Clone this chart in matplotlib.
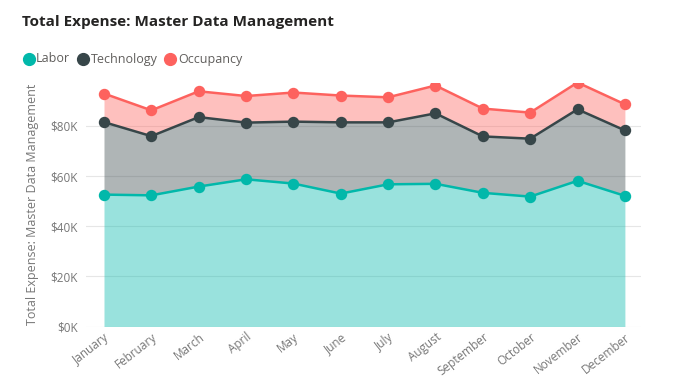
import matplotlib
matplotlib.use("Agg")
import matplotlib.pyplot as plt
from matplotlib.lines import Line2D
from matplotlib.ticker import FuncFormatter
import numpy as np

months = ["January", "February", "March", "April", "May", "June", "July",
          "August", "September", "October", "November", "December"]
labor = [52.6, 52.3, 55.8, 58.7, 57.0, 53.0, 56.7, 56.9, 53.3, 51.8, 58.1, 52.1]
technology = [28.9, 23.6, 27.7, 22.6, 24.7, 28.4, 24.7, 28.1, 22.5, 23.1, 28.5, 26.1]
occupancy = [11.4, 10.3, 10.3, 10.6, 11.6, 10.7, 10.0, 11.1, 11.1, 10.4, 10.7, 10.4]
series_names = ["Labor", "Technology", "Occupancy"]
colors = ["#01B8AA", "#374649", "#FD625E"]
yticks = [0, 20, 40, 60, 80]

plt.rcParams['font.family'] = ['Open Sans', 'DejaVu Sans']

W, H = 673, 387
fig = plt.figure(figsize=(W / 100, H / 100), dpi=100)
ax = fig.add_axes([86/W, 1 - 326.5/H, (641-86)/W, (326.5-82.5)/H])

x = np.arange(len(months))
base = np.zeros(len(months))
for vals, col in zip([labor, technology, occupancy], colors):
    top = base + np.array(vals)
    ax.fill_between(x, base, top, color=col, alpha=0.4, linewidth=0, zorder=2)
    base = top
base = np.zeros(len(months))
for vals, col in zip([labor, technology, occupancy], colors):
    top = base + np.array(vals)
    ax.plot(x, top, color=col, lw=1.8, marker='o', markersize=7.2, zorder=3)
    base = top

ax.set_xlim(-0.38, 11.34)
ax.set_ylim(0, 97.3)
ax.set_yticks(yticks)
ax.yaxis.set_major_formatter(FuncFormatter(lambda v, p: f"${v:.0f}K"))
ax.set_xticks(x)
ax.set_xticklabels(months, rotation=38, ha='right', rotation_mode='anchor')
ax.grid(axis='y', color='#E6E6E6', lw=0.8, zorder=0)
for s in ax.spines.values():
    s.set_visible(False)
ax.tick_params(axis='both', length=0, colors='#777777', labelsize=8.5)
ax.tick_params(axis='y', pad=6)
ax.tick_params(axis='x', pad=3)
ax.set_ylabel("Total Expense: Master Data Management", color='#777777', fontsize=9, labelpad=8)

fig.text(22/W, 1 - 22/H, "Total Expense: Master Data Management", fontsize=11,
         fontweight='bold', color='#252423', va='center', ha='left')

# legend
marker_x = [29, 83, 170]
text_x = [36, 91, 178]
ly = 1 - 59/H
for name, col, mx, tx in zip(series_names, colors, marker_x, text_x):
    fig.add_artist(Line2D([mx/W], [ly], color=col, marker='o', markersize=8.5, lw=0,
                          transform=fig.transFigure))
    fig.text(tx/W, ly, name, fontsize=9, color='#605E5C', va='center', ha='left')

fig.savefig("out.png", dpi=100)
